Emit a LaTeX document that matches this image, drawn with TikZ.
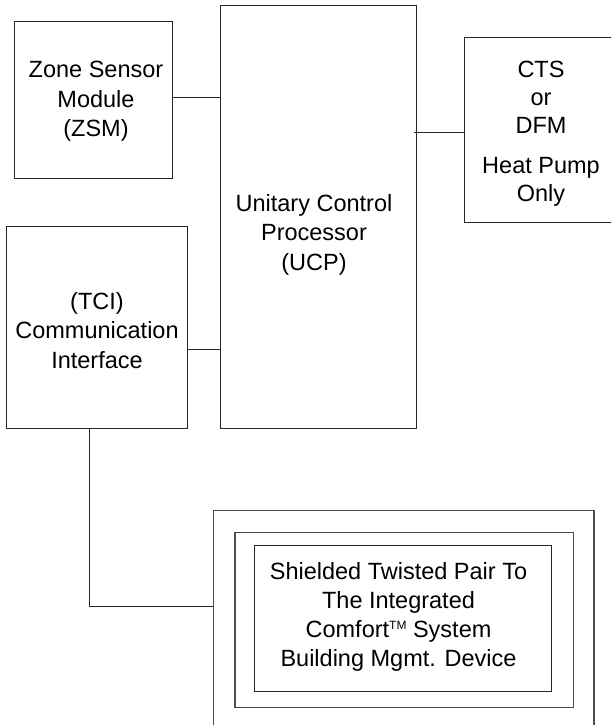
\documentclass[tikz,border=0pt]{standalone}
\usepackage{fontspec}
\setmainfont{Liberation Sans}
\begin{document}
\begin{tikzpicture}[x=1pt,y=-1pt,
  box/.style={draw=black!85,line width=1pt,inner sep=0pt,rectangle},
  framebox/.style={draw=black!70,line width=1.1pt,inner sep=0pt,rectangle},
  wire/.style={draw=black!85,line width=1pt},
  txt/.style={align=center,inner sep=0pt,anchor=base,font=\fontsize{23.5}{29.5}\selectfont}]
\useasboundingbox (0,0) rectangle (611,725);
\clip (0,0) rectangle (611,725);
% boxes
\node[box,minimum width=158pt,minimum height=156pt] (zsm) at (93,100) {};
\node[box,minimum width=196pt,minimum height=422.6pt] (ucp) at (318.5,217) {};
\node[box,minimum width=156pt,minimum height=184pt] (cts) at (542,130) {};
\node[box,minimum width=180.6pt,minimum height=201.6pt] (tci) at (97,327.5) {};
\node[framebox,minimum width=380.5pt,minimum height=229pt] (outer) at (403.7,625) {};
\node[framebox,minimum width=338.5pt,minimum height=174.8pt] (middle) at (404.2,620) {};
\node[box,minimum width=296.5pt,minimum height=145.7pt] (inner) at (403.2,618.6) {};
% texts (base anchor = baseline of last line)
\node[txt] (zsmtext) at (96,136.7) {Zone Sensor\\Module\\(ZSM)};
\node[txt] (ucptext) at (314,270) {Unitary Control\\Processor\\(UCP)};
\node[txt,font=\fontsize{23.5}{28}\selectfont] (ctstext) at (541,201.7) {CTS\\or\\DFM\\[12pt]Heat Pump\\Only};
\node[txt] (tcitext) at (97,368.3) {(TCI)\\Communication\\Interface};
\node[txt,font=\fontsize{23.5}{29.2}\selectfont] (innertext) at (398.5,666.7) {Shielded Twisted Pair To\\The Integrated\\Comfort{\fontsize{12}{12}\selectfont\raisebox{8pt}{TM}} System\\Building Mgmt. Device};
% connectors
\draw[wire] ([yshift=3pt]zsm.east) -- ([yshift=3pt]zsm.east -| ucp.west);
\draw[wire] ([yshift=-2pt]cts.west) -- ([xshift=-3pt,yshift=-2pt]cts.west -| ucp.east);
\draw[wire] ([yshift=-21.5pt]tci.east) -- ([yshift=-21.5pt]tci.east -| ucp.west);
\draw[wire] ([xshift=-8pt]tci.south) |- ([yshift=18.3pt]outer.west);
\end{tikzpicture}
\end{document}
